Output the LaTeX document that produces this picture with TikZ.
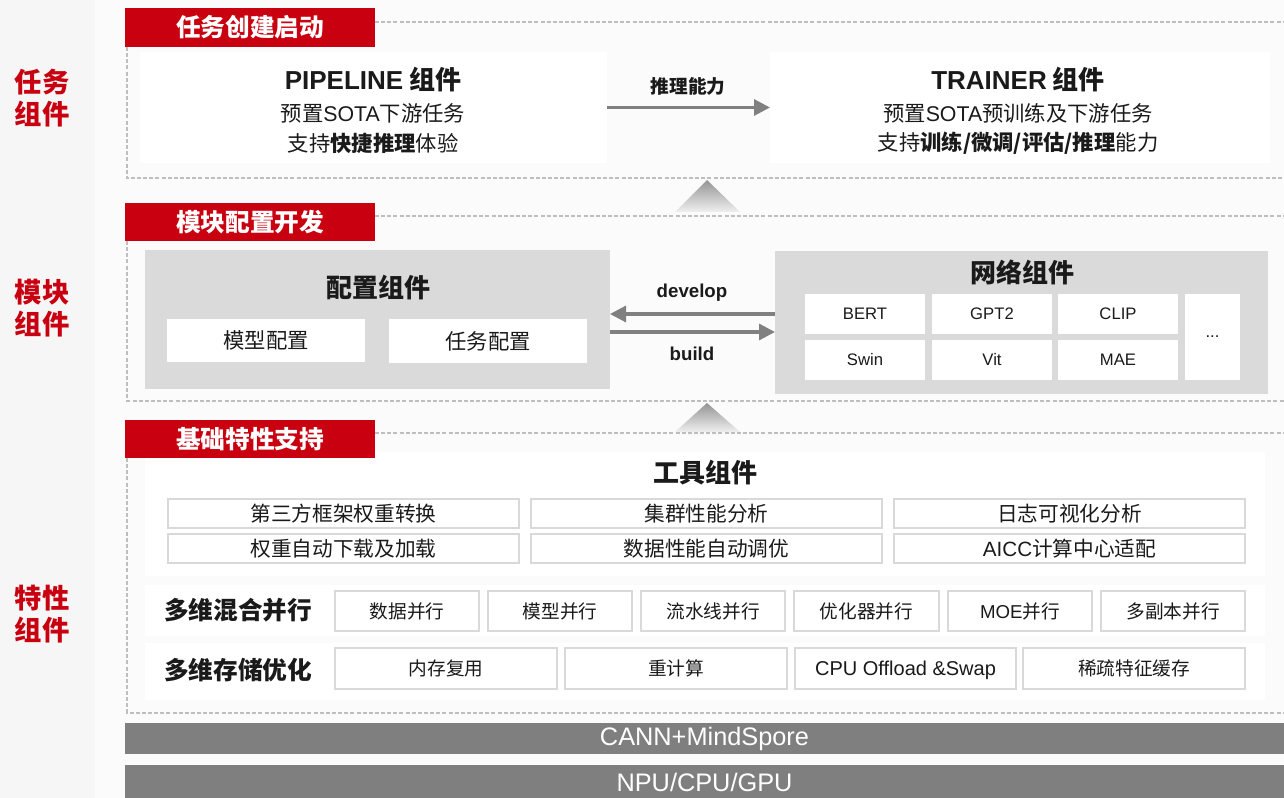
\documentclass[tikz,border=0pt]{standalone}
\usepackage{fontspec}
\setmainfont{Noto Sans CJK SC}
\newfontfamily\latin{Liberation Sans}
\usetikzlibrary{arrows.meta}
\definecolor{hwred}{RGB}{200,0,15}
\definecolor{bgall}{RGB}{251,251,251}
\definecolor{bgleft}{RGB}{246,246,246}
\definecolor{cfggray}{RGB}{218,218,218}
\definecolor{boxline}{RGB}{217,217,217}
\definecolor{dashgray}{RGB}{190,190,190}
\definecolor{arrgray}{RGB}{128,128,128}
\definecolor{bargray}{RGB}{127,127,127}
\definecolor{txt}{RGB}{26,26,26}
\newcommand\myfs[1]{\fontsize{#1pt}{#1pt}\selectfont}
\newcommand\bx[7]{\node[#2, minimum width={(#5-#3)*0.75pt}, minimum height={(#6-#4)*0.75pt}] (#1) at ({(#3+#5)/2},{(#4+#6)/2}) {#7};}
\begin{document}
\begin{tikzpicture}[x=0.75pt,y=-0.75pt,
  every node/.style={inner sep=0pt, outer sep=0pt, text=txt},
  panel/.style={fill=white},
  graybox/.style={fill=cfggray},
  cell/.style={fill=white, font=\myfs{16}},
  ncell/.style={fill=white, font=\latin\myfs{12.5}},
  tbox/.style={fill=white, draw=boxline, line width=1.5pt, font=\myfs{15.5}},
  pbox/.style={fill=white, draw=boxline, line width=1.5pt, font=\myfs{14}},
  tab/.style={fill=hwred, text=white, font=\bfseries\myfs{18.5}},
  title/.style={font=\bfseries\myfs{19.5}},
  sub/.style={font=\myfs{16}},
  lab/.style={font=\bfseries\myfs{14}},
  latlab/.style={font=\latin\bfseries\myfs{14}},
  rowlab/.style={font=\bfseries\myfs{18.5}},
  side/.style={text=hwred, align=center, font={\fontsize{20.5pt}{24pt}\selectfont\bfseries}},
  bar/.style={fill=bargray, text=white, font=\latin\myfs{19}},
  frame/.style={draw=dashgray, line width=1.1pt, dash pattern=on 3pt off 1.6pt},
  conn/.style={draw=arrgray, line width=2.3pt, -{Triangle[length=12pt,width=12pt]}},
  uptri/.style={top color=black!42, bottom color=black!6}
]
\useasboundingbox (0,0) rectangle (1284,798);
\fill[bgall] (0,0) rectangle (1284,798);
\fill[bgleft] (0,0) rectangle (95,798);

% ---------------- Section 1 ----------------
\draw[frame] (375,22) -- (1290,22) (127,47) -- (127,178) -- (1290,178);
\bx{pipe}{panel}{140}{52}{607}{163}{}
\node[title] (pipet) at (373,80) {{\latin\bfseries PIPELINE} 组件};
\node[sub] (pipe1) at (373,113) {预置{\latin SOTA}下游任务};
\node[sub] (pipe2) at (373,143) {支持\textbf{快捷推理}体验};
\bx{trainer}{panel}{770}{52}{1270}{163}{}
\node[title] (trat) at (1018,80) {{\latin\bfseries TRAINER} 组件};
\node[sub] (tra1) at (1018,113) {预置{\latin SOTA}预训练及下游任务};
\node[sub] (tra2) at (1018,143) {支持\textbf{训练/微调/评估/推理}能力};
\draw[conn] (pipe.east) -- (trainer.west);
\node[lab] (inf) at (688,86) {推理能力};
\shade[uptri] (675,212) -- (707,180) -- (740,212) -- cycle;

% ---------------- Section 2 ----------------
\draw[frame] (375,216) -- (1290,216) (127,241) -- (127,401) -- (1290,401);
\bx{cfg}{graybox}{145}{250}{610}{389}{}
\node[title] (cfgt) at (378,288) {配置组件};
\bx{mcfg}{cell}{167}{319}{365}{362}{模型配置}
\bx{tcfg}{cell}{389}{319}{587}{363}{任务配置}
\bx{net}{graybox}{775}{251}{1268}{394}{}
\node[title] (nett) at (1022,272) {网络组件};
\bx{bert}{ncell}{805}{294}{925}{334}{BERT}
\bx{gpt}{ncell}{932}{294}{1052}{334}{GPT2}
\bx{clip}{ncell}{1058}{294}{1178}{334}{CLIP}
\bx{swin}{ncell}{805}{340}{925}{380}{Swin}
\bx{vit}{ncell}{932}{340}{1052}{380}{Vit}
\bx{mae}{ncell}{1058}{340}{1178}{380}{MAE}
\bx{more}{ncell}{1185}{294}{1240}{380}{...}
\coordinate (ydev) at (0,314);
\coordinate (ybuild) at (0,332);
\draw[conn] (net.west |- ydev) -- (cfg.east |- ydev);
\draw[conn] (cfg.east |- ybuild) -- (net.west |- ybuild);
\node[latlab] (devl) at (692,293) {develop};
\node[latlab] (buil) at (692,354) {build};
\shade[uptri] (675,432) -- (707,403) -- (740,432) -- cycle;

% ---------------- Section 3 ----------------
\draw[frame] (375,433) -- (1290,433) (127,458) -- (127,713) -- (1290,713);
\bx{tools}{panel}{145}{452}{1265}{576}{}
\node[title] (toolt) at (705,473) {工具组件};
\bx{t1}{tbox}{168}{499}{519}{528}{第三方框架权重转换}
\bx{t2}{tbox}{531}{499}{882}{528}{集群性能分析}
\bx{t3}{tbox}{894}{499}{1245}{528}{日志可视化分析}
\bx{t4}{tbox}{168}{534}{519}{563}{权重自动下载及加载}
\bx{t5}{tbox}{531}{534}{882}{563}{数据性能自动调优}
\bx{t6}{tbox}{894}{534}{1245}{563}{{\latin AICC}计算中心适配}
\bx{par}{panel}{145}{585}{1265}{636}{}
\node[rowlab] (parl) at (238,610) {多维混合并行};
\bx{p1}{pbox}{335}{591}{479}{631}{数据并行}
\bx{p2}{pbox}{488}{591}{632}{631}{模型并行}
\bx{p3}{pbox}{641}{591}{785}{631}{流水线并行}
\bx{p4}{pbox}{794}{591}{939}{631}{优化器并行}
\bx{p5}{pbox}{948}{591}{1092}{631}{{\latin MOE}并行}
\bx{p6}{pbox}{1101}{591}{1245}{631}{多副本并行}
\bx{mem}{panel}{145}{643}{1265}{700}{}
\node[rowlab] (meml) at (238,670) {多维存储优化};
\bx{m1}{pbox}{335}{648}{557}{689}{内存复用}
\bx{m2}{pbox}{565}{648}{787}{689}{重计算}
\bx{m3}{pbox,text height=10.8pt,text depth=0pt}{795}{648}{1016}{689}{\latin\myfs{15}CPU Offload \&Swap}
\bx{m4}{pbox}{1023}{648}{1245}{689}{稀疏特征缓存}

% ---------------- Bars ----------------
\bx{cann}{bar}{125}{723}{1284}{754}{CANN+MindSpore}
\bx{npu}{bar}{125}{765}{1284}{800}{NPU/CPU/GPU}

% ---------------- Tabs ----------------
\bx{tab1}{tab}{125}{8}{375}{47}{任务创建启动}
\bx{tab2}{tab}{125}{203}{375}{241}{模块配置开发}
\bx{tab3}{tab}{125}{420}{375}{458}{基础特性支持}

% ---------------- Side labels ----------------
\node[side] (s1) at (42,98) {任务\\组件};
\node[side] (s2) at (42,308) {模块\\组件};
\node[side] (s3) at (42,614) {特性\\组件};
\end{tikzpicture}
\end{document}
